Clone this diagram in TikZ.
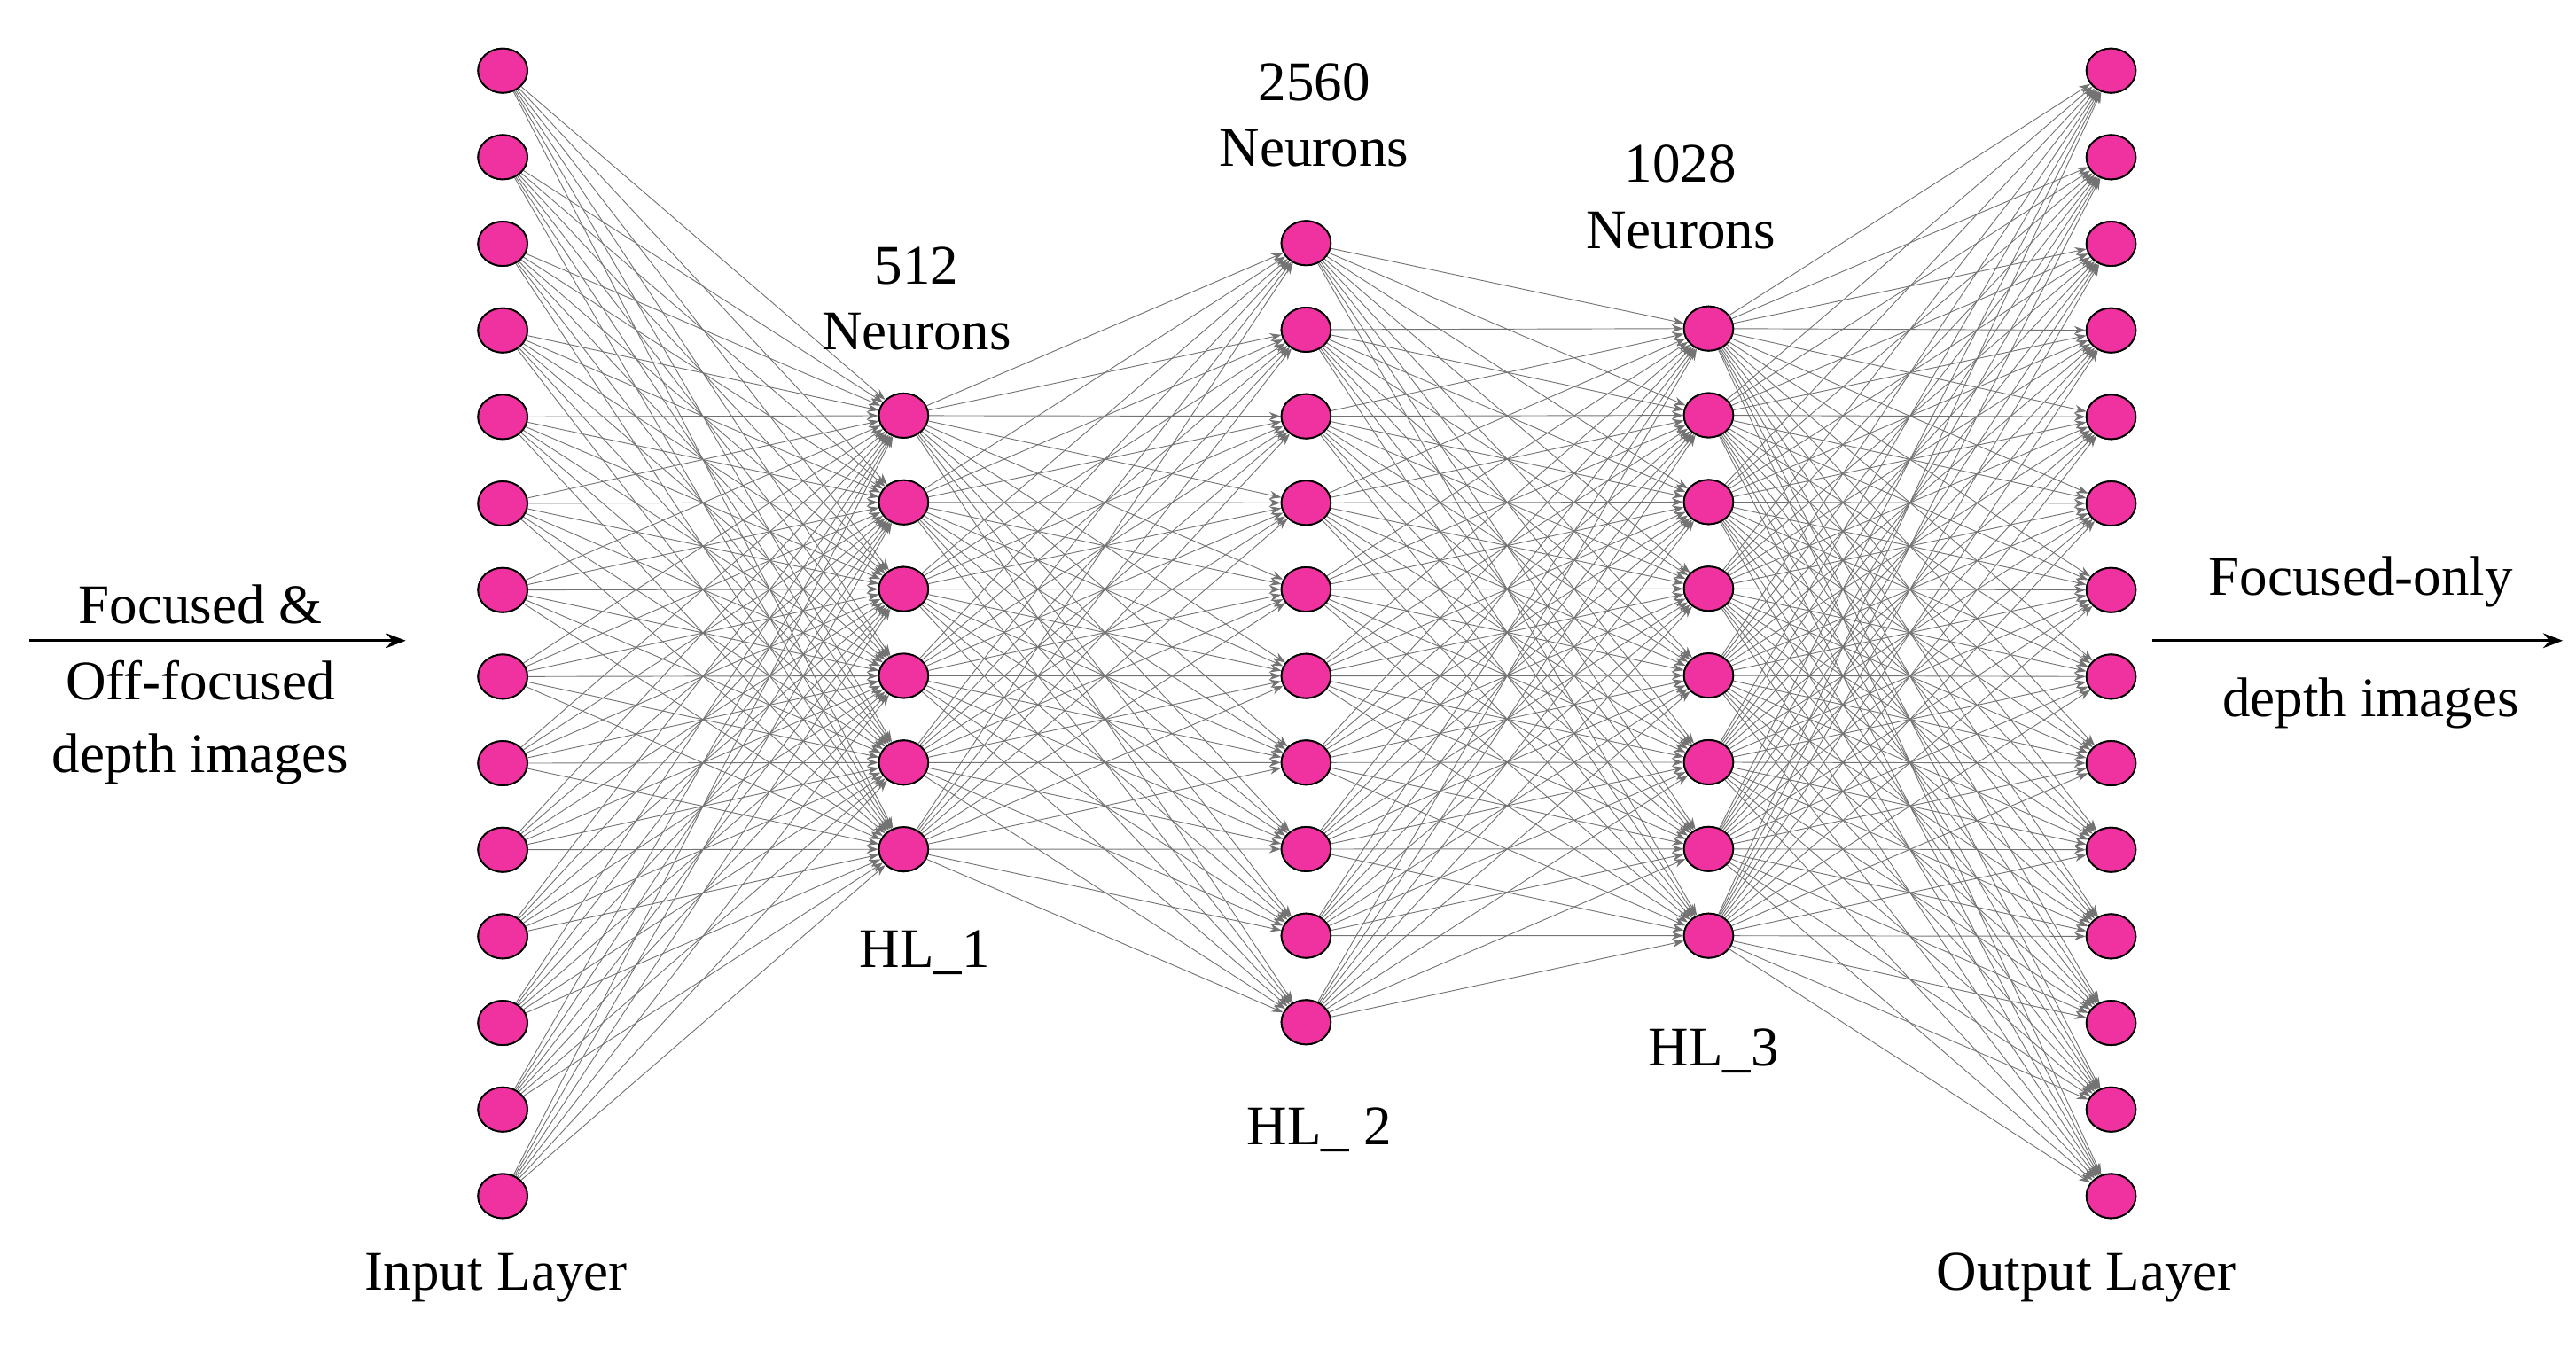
\documentclass[tikz,border=0pt]{standalone}
\usepackage{fontspec}
\setmainfont{Liberation Serif}
\usetikzlibrary{arrows.meta}
\definecolor{neu}{RGB}{240,50,160}
\tikzset{
  neuron/.style={ellipse,draw=black,line width=1pt,fill=neu,minimum width=30pt,minimum height=27pt,inner sep=0pt},
  conn/.style={draw=black!55,line width=0.5pt,-{Stealth[length=7pt,width=5pt]}},
  lbl/.style={font=\fontsize{34}{40}\selectfont,align=center},
  big/.style={line width=1.6pt,-{Stealth[length=12pt,width=9pt]}}
}
\usetikzlibrary{shapes.geometric}
\begin{document}
\begin{tikzpicture}[x=1pt,y=-1pt]
\useasboundingbox (0,0) rectangle (1568,826);
% nodes
\foreach \i in {1,...,14}{\node[neuron] (a\i) at (306,{43+(\i-1)*52.7}) {};}
\foreach \i in {1,...,6}{\node[neuron] (b\i) at (550,{253+(\i-1)*52.8}) {};}
\foreach \i in {1,...,10}{\node[neuron] (c\i) at (795,{148+(\i-1)*52.7}) {};}
\foreach \i in {1,...,8}{\node[neuron] (d\i) at (1040,{200+(\i-1)*52.8}) {};}
\foreach \i in {1,...,14}{\node[neuron] (e\i) at (1285,{43+(\i-1)*52.7}) {};}
% connections
\begin{scope}[on background layer/.style={}]
\foreach \i in {1,...,14}{\foreach \j in {1,...,6}{\draw[conn] (a\i) -- (b\j);}}
\foreach \i in {1,...,6}{\foreach \j in {1,...,10}{\draw[conn] (b\i) -- (c\j);}}
\foreach \i in {1,...,10}{\foreach \j in {1,...,8}{\draw[conn] (c\i) -- (d\j);}}
\foreach \i in {1,...,8}{\foreach \j in {1,...,14}{\draw[conn] (d\i) -- (e\j);}}
\end{scope}
% redraw nodes on top
\foreach \i in {1,...,14}{\node[neuron] at (a\i) {};\node[neuron] at (e\i) {};}
\foreach \i in {1,...,6}{\node[neuron] at (b\i) {};}
\foreach \i in {1,...,10}{\node[neuron] at (c\i) {};}
\foreach \i in {1,...,8}{\node[neuron] at (d\i) {};}
% labels
\node[lbl] (t1) at (558,182) {512\\Neurons};
\node[lbl] (t2) at (800,70) {2560\\Neurons};
\node[lbl] (t3) at (1023,120) {1028\\Neurons};
\node[lbl] (h1) at (563,580) {HL\_1};
\node[lbl] (h2) at (803,688) {HL\_ 2};
\node[lbl] (h3) at (1043,640) {HL\_3};
\node[lbl] (il) at (302,778) {Input Layer};
\node[lbl] (ol) at (1270,778) {Output Layer};
\node[lbl] (lt1) at (122,368) {Focused \&};
\node[lbl] (lt2) at (122,414) {Off-focused};
\node[lbl] (lt3) at (122,462) {depth images};
\coordinate (la) at (18,390); \coordinate (lb) at (247,390);
\draw[big] (la) -- (lb);
\node[lbl] (rt1) at (1437,354) {Focused-only};
\node[lbl] (rt2) at (1443,428) {depth images};
\coordinate (ra) at (1310,390); \coordinate (rb) at (1560,390);
\draw[big] (ra) -- (rb);
\end{tikzpicture}
\end{document}
